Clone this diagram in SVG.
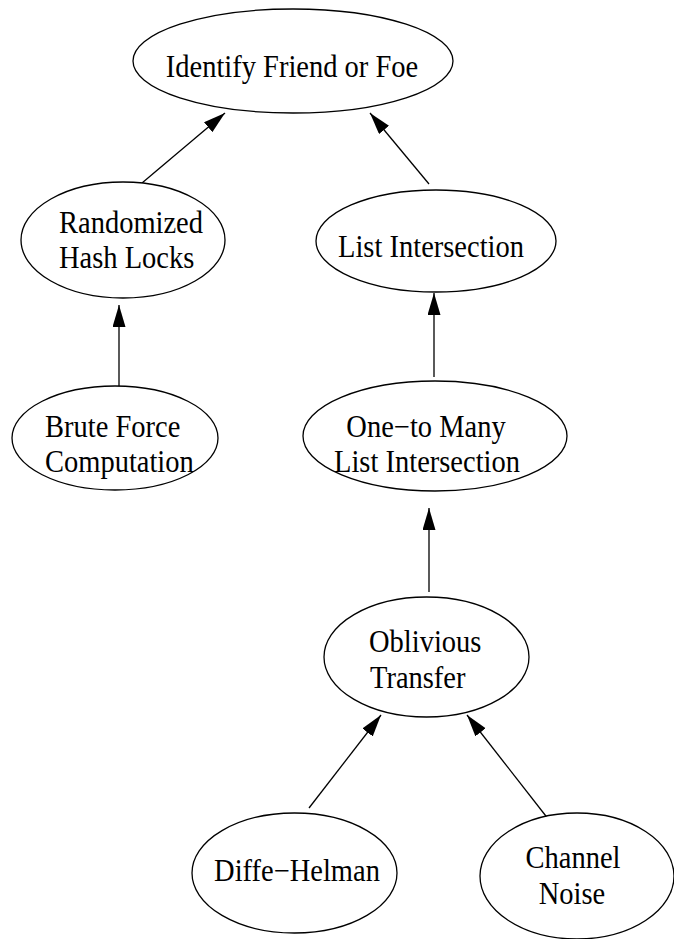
<svg xmlns="http://www.w3.org/2000/svg" width="674" height="939" viewBox="0 0 674 939">
<style>
.node ellipse{fill:#fff;stroke:#000;stroke-width:1.3}
.node text{font-family:"Liberation Serif","Times New Roman",serif;font-size:28.5px;fill:#000}
.c{text-anchor:middle}
#edges line{stroke:#000;stroke-width:1.3;marker-end:url(#ah)}
</style>
<defs>
<marker id="ah" markerUnits="userSpaceOnUse" markerWidth="24" markerHeight="14" refX="22" refY="6.5" orient="auto">
<path d="M0,0 L22,6.5 L0,13 z" fill="#000"/>
</marker>
</defs>
<rect width="674" height="939" fill="#fff"/>
<g id="edges">
<line x1="142" y1="183" x2="225" y2="113"/>
<line x1="429" y1="184" x2="370" y2="113"/>
<line x1="119" y1="388" x2="119" y2="305"/>
<line x1="434" y1="377" x2="434" y2="293"/>
<line x1="429" y1="592" x2="429" y2="508"/>
<line x1="309" y1="808" x2="381" y2="715"/>
<line x1="549" y1="820" x2="467" y2="715"/>
</g>
<g id="iff" class="node">
<ellipse cx="293" cy="61" rx="160" ry="52"/>
<text class="c" transform="translate(292,77) scale(1,1.09)">Identify Friend or Foe</text>
</g>
<g id="rhl" class="node">
<ellipse cx="123" cy="240" rx="102" ry="58"/>
<text transform="translate(59,233) scale(1,1.09)">Randomized</text>
<text transform="translate(59,268) scale(1,1.09)">Hash Locks</text>
</g>
<g id="li" class="node">
<ellipse cx="436" cy="241" rx="120" ry="51"/>
<text class="c" transform="translate(431,257) scale(1,1.09)">List Intersection</text>
</g>
<g id="bfc" class="node">
<ellipse cx="115" cy="438" rx="103" ry="52"/>
<text transform="translate(45,437) scale(1,1.09)">Brute Force</text>
<text transform="translate(45,472) scale(1,1.09)">Computation</text>
</g>
<g id="otm" class="node">
<ellipse cx="435" cy="436" rx="132" ry="55"/>
<text class="c" transform="translate(426,437) scale(1,1.09)">One−to Many</text>
<text class="c" transform="translate(427,472) scale(1,1.09)">List Intersection</text>
</g>
<g id="ot" class="node">
<ellipse cx="426.5" cy="657" rx="102.5" ry="60"/>
<text transform="translate(369,652) scale(1,1.09)">Oblivious</text>
<text transform="translate(370,688) scale(1,1.09)">Transfer</text>
</g>
<g id="dh" class="node">
<ellipse cx="294.5" cy="873" rx="102.5" ry="60"/>
<text class="c" transform="translate(297,881) scale(1,1.09)">Diffe−Helman</text>
</g>
<g id="cn" class="node">
<ellipse cx="577" cy="876" rx="97" ry="63"/>
<text class="c" transform="translate(573,868) scale(1,1.09)">Channel</text>
<text class="c" transform="translate(572,904) scale(1,1.09)">Noise</text>
</g>
</svg>
